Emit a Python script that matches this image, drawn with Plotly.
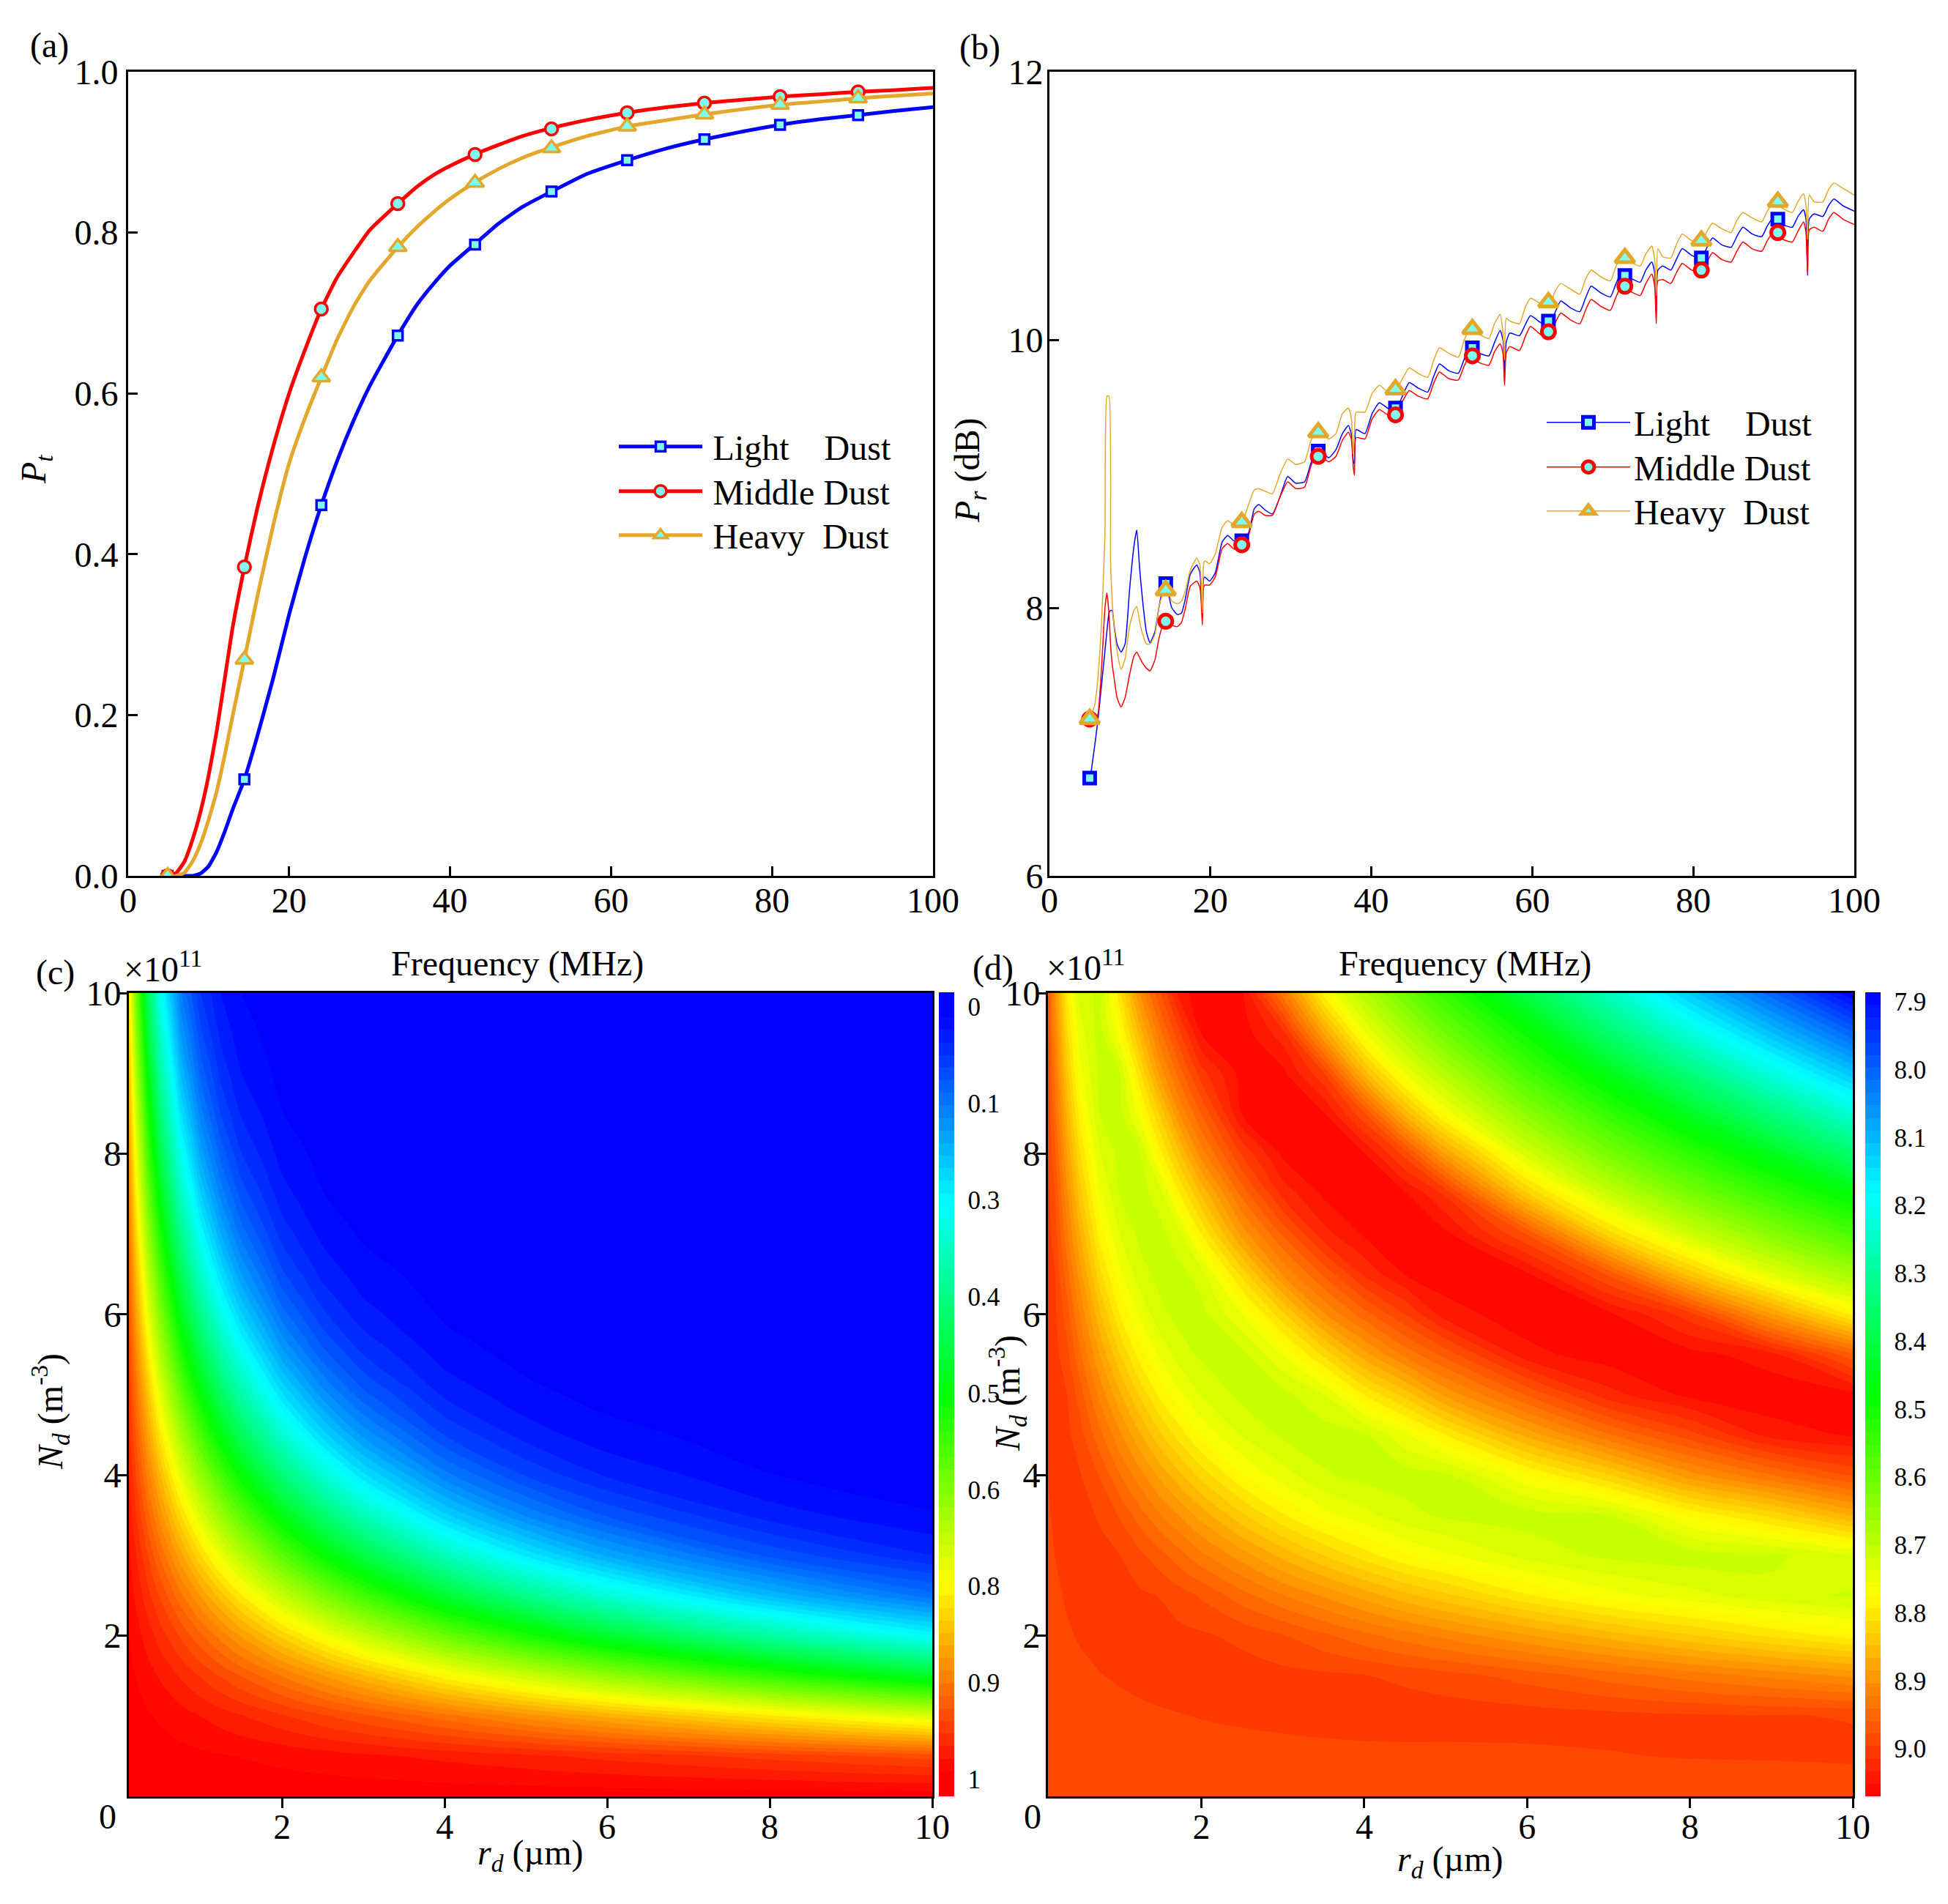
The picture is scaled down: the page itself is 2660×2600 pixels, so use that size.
import numpy as np
import plotly.graph_objects as go

W, H = 2660, 2600
PAGE = 8  # the page body keeps an 8 px margin around the figure
FONT = "Liberation Serif"

# (a) transmission curves
freq_a = [5, 6, 7, 8, 9, 10, 11, 12, 13, 14.44, 16, 18, 20, 22, 24, 26, 28, 30, 33.5, 36, 38, 40, 43, 46, 49,
          52.6, 57, 62, 67, 71.6, 76, 81, 86, 90.6, 95, 100]
light_a = [0, 0, 0, 0, .003, .012, .03, .055, .083, .12, .172, .245, .325, .397, .461, .517, .566, .609, .672, .712,
           .737, .759, .785, .811, .832, .851, .873, .89, .905, .916, .925, .934, .941, .946, .951, .956]
middle_a = [0, .004, .018, .045, .08, .125, .18, .245, .31, .384, .455, .533, .6, .655, .705, .745, .775, .803, .836,
            .858, .872, .883, .897, .909, .92, .93, .94, .949, .956, .961, .965, .969, .972, .975, .977, .98]
heavy_a = [0, 0, .004, .018, .04, .07, .105, .15, .2, .269, .345, .435, .513, .57, .62, .668, .708, .74, .782, .808,
           .826, .842, .862, .879, .893, .906, .92, .932, .94, .947, .953, .959, .963, .967, .97, .973]

mark_freq_a = [4.9, 14.44, 24, 33.5, 43.1, 52.6, 62, 71.6, 81, 90.7]
mark_light_a = [0, .12, .461, .672, .785, .851, .89, .916, .934, .946]
mark_middle_a = [0, .384, .705, .836, .897, .929, .949, .961, .969, .975]
mark_heavy_a = [0, .269, .62, .782, .862, .905, .932, .947, .959, .967]

# (b) reflection curves
freq_b = [5.1, 5.6, 6.0, 6.5, 6.9, 7.15, 7.4, 7.6, 7.8, 8.05, 8.4, 8.9, 9.4, 9.95, 10.5, 10.85, 11.2, 11.55, 12.05,
          12.5, 13.1, 13.6, 14.15, 14.65, 15.2, 15.9, 16.4, 16.9, 17.5, 18.3, 18.7, 18.85, 19.0, 19.15, 19.3, 19.9,
          20.6, 21.45, 22.15, 22.9, 23.9, 24.8, 25.45, 26.0, 26.8, 27.7, 28.6, 29.6, 30.6, 31.7, 32.5, 33.3, 34.7,
          35.6, 36.4, 37.15, 37.5, 37.75, 37.9, 38.1, 39.2, 40.1, 41.0, 42.3, 43.3, 44.7, 45.8, 47.0, 47.7, 48.46,
          49.6, 50.8, 51.5, 52.23, 53.4, 54.6, 55.3, 56.0, 56.35, 56.55, 56.75, 57.2, 58.4, 59.1, 59.77, 61, 62.1,
          62.8, 63.54, 64.7, 65.9, 66.6, 67.31, 68.5, 69.7, 70.4, 71.08, 72.2, 73.4, 74.1, 74.85, 75.2, 75.4, 75.6,
          76.2, 77.2, 77.9, 78.62, 79.8, 81, 81.7, 82.39, 83.5, 84.7, 85.4, 86.16, 87.3, 88.5, 89.2, 89.93, 91.1,
          92.3, 93.0, 93.7, 94.0, 94.2, 94.4, 95, 96.1, 96.8, 97.47, 98.6, 100]
light_b = [6.74, 6.96, 7.15, 7.44, 7.68, 7.83, 7.96, 7.98, 7.98, 7.86, 7.73, 7.67, 7.73, 8.13, 8.46, 8.58, 8.30, 8.07,
           7.82, 7.74, 7.82, 8.0, 8.15, 8.13, 8.0, 7.95, 7.96, 8.07, 8.25, 8.32, 8.26, 8.10, 7.94, 8.22, 8.23, 8.20,
           8.26, 8.49, 8.54, 8.50, 8.47, 8.57, 8.74, 8.77, 8.73, 8.70, 8.82, 8.98, 8.93, 8.94, 9.08, 9.19, 9.12,
           9.18, 9.30, 9.36, 9.30, 9.10, 9.07, 9.33, 9.30, 9.45, 9.53, 9.48, 9.51, 9.68, 9.64, 9.61, 9.72, 9.82,
           9.77, 9.75, 9.85, 9.95, 9.90, 9.88, 9.98, 10.07, 10.0, 9.75, 9.98, 10.05, 10.03, 10.11, 10.18, 10.13, 10.10,
           10.20, 10.29, 10.24, 10.21, 10.31, 10.40, 10.35, 10.32, 10.42, 10.50, 10.46, 10.43, 10.52, 10.58, 10.50,
           10.17, 10.52, 10.55, 10.52, 10.60, 10.68, 10.63, 10.60, 10.69, 10.76, 10.71, 10.69, 10.77, 10.84, 10.79,
           10.77, 10.85, 10.91, 10.86, 10.84, 10.92, 10.97, 10.90, 10.48, 10.90, 10.94, 10.92, 11.0, 11.05, 11.0, 10.96]
middle_b = [7.16, 7.17, 7.20, 7.58, 8.0, 8.11, 7.95, 7.72, 7.58, 7.47, 7.33, 7.26, 7.33, 7.50, 7.64, 7.67, 7.63, 7.59,
            7.55, 7.53, 7.61, 7.77, 7.88, 7.89, 7.87, 7.86, 7.89, 8.0, 8.16, 8.20, 8.15, 8.05, 7.87, 8.15, 8.17, 8.17,
            8.23, 8.44, 8.48, 8.44, 8.44, 8.55, 8.70, 8.72, 8.69, 8.69, 8.82, 8.94, 8.89, 8.90, 9.06, 9.15, 9.09,
            9.13, 9.25, 9.31, 9.26, 9.05, 8.99, 9.27, 9.26, 9.41, 9.48, 9.43, 9.48, 9.62, 9.58, 9.56, 9.67, 9.76,
            9.71, 9.70, 9.80, 9.88, 9.83, 9.81, 9.91, 9.97, 9.90, 9.66, 9.90, 9.95, 9.92, 10.02, 10.10, 10.04, 10.01,
            10.12, 10.20, 10.15, 10.12, 10.22, 10.30, 10.25, 10.22, 10.32, 10.40, 10.36, 10.33, 10.42, 10.49, 10.40,
            10.12, 10.44, 10.45, 10.42, 10.50, 10.57, 10.52, 10.50, 10.58, 10.65, 10.60, 10.58, 10.66, 10.73, 10.68,
            10.66, 10.74, 10.80, 10.75, 10.73, 10.81, 10.88, 10.80, 10.50, 10.82, 10.84, 10.81, 10.90, 10.95, 10.90, 10.86]
heavy_b = [7.18, 7.27, 7.46, 7.92, 8.55, 9.58, 9.58, 8.35, 8.05, 7.85, 7.68, 7.54, 7.62, 7.86, 7.98, 8.01, 7.90, 7.81,
           7.73, 7.73, 7.80, 8.0, 8.11, 8.13, 8.05, 8.03, 8.05, 8.13, 8.28, 8.37, 8.32, 8.20, 7.96, 8.32, 8.35, 8.33,
           8.40, 8.60, 8.65, 8.62, 8.64, 8.78, 8.88, 8.89, 8.87, 8.85, 8.99, 9.11, 9.07, 9.09, 9.25, 9.33, 9.26,
           9.30, 9.45, 9.49, 9.42, 9.15, 9.30, 9.46, 9.46, 9.60, 9.66, 9.60, 9.65, 9.79, 9.75, 9.72, 9.84, 9.94,
           9.90, 9.87, 9.99, 10.09, 10.04, 10.01, 10.12, 10.19, 10.05, 9.85, 10.16, 10.14, 10.12, 10.24, 10.31, 10.27,
           10.24, 10.36, 10.42, 10.38, 10.34, 10.45, 10.52, 10.47, 10.44, 10.55, 10.62, 10.58, 10.55, 10.64, 10.70,
           10.60, 10.33, 10.68, 10.62, 10.61, 10.71, 10.79, 10.74, 10.72, 10.81, 10.87, 10.83, 10.80, 10.89, 10.95,
           10.91, 10.88, 10.96, 11.02, 10.98, 10.95, 11.03, 11.09, 11.0, 10.75, 11.08, 11.03, 11.03, 11.12, 11.17,
           11.13, 11.08]

mark_freq_b = [5, 14.45, 23.9, 33.4, 43, 52.55, 62, 71.5, 81, 90.5]
mark_light_b = [6.73, 8.18, 8.50, 9.17, 9.49, 9.94, 10.14, 10.48, 10.61, 10.90]
mark_middle_b = [7.17, 7.90, 8.47, 9.13, 9.44, 9.88, 10.06, 10.40, 10.52, 10.80]
mark_heavy_b = [7.17, 8.13, 8.64, 9.31, 9.63, 10.08, 10.28, 10.61, 10.74, 11.03]

# (c) Pt map, one list per r_d column (N_d in 1e11 m^-3)
rd_c = [0.1, 0.2, 0.35, 0.5, 0.75, 1, 1.25, 1.5, 2, 2.5, 3, 4, 5, 6, 8, 10]
nd_c = [0, 0.5, 1, 1.5, 2, 2.5, 3, 3.5, 4, 4.5, 5, 5.5, 6, 6.5, 7, 7.5, 8, 8.5, 9, 9.5, 10]
pt_01 = [1, .999, .998, .995, .991, .986, .980, .973, .965, .955, .945, .934, .922, .909, .895, .881, .866, .850, .833, .816, .798]
pt_02 = [1, .999, .995, .989, .981, .970, .958, .943, .926, .907, .887, .865, .841, .816, .790, .763, .735, .706, .677, .648, .618]
pt_03 = [1, .998, .991, .980, .965, .946, .924, .897, .868, .836, .802, .765, .727, .688, .648, .608, .568, .528, .489, .450, .413]
pt_04 = [1, .997, .987, .971, .949, .922, .889, .852, .812, .768, .722, .674, .626, .577, .528, .481, .434, .390, .348, .309, .272]
pt_05 = [1, .995, .980, .955, .922, .881, .833, .780, .723, .663, .602, .541, .481, .424, .370, .319, .273, .231, .193, .160, .131]
pt_06 = [1, .993, .973, .939, .895, .841, .779, .711, .641, .570, .499, .432, .368, .309, .256, .210, .169, .134, .105, .082, .062]
pt_07 = [1, .991, .965, .923, .868, .802, .727, .648, .568, .488, .413, .343, .279, .224, .176, .136, .104, .077, .057, .041, .029]
pt_08 = [1, .989, .958, .907, .841, .763, .678, .589, .501, .417, .340, .271, .211, .161, .120, .088, .063, .044, .030, .020, .013]
pt_09 = [1, .985, .943, .875, .789, .691, .587, .485, .388, .302, .228, .167, .119, .082, .055, .036, .023, .014, .008, .005, .003]
pt_10 = [1, .981, .927, .844, .740, .624, .507, .397, .299, .217, .152, .102, .066, .041, .025, .014, .008, .004, .002, .001, .001]
pt_11 = [1, .977, .912, .813, .692, .563, .437, .324, .229, .155, .100, .062, .036, .021, .011, .006, .003, .001, .001, 0, 0]
pt_12 = [1, .969, .882, .753, .604, .455, .322, .213, .133, .078, .043, .022, .011, .005, .002, .001, 0, 0, 0, 0, 0]
pt_13 = [1, .961, .852, .698, .527, .368, .237, .141, .077, .039, .018, .008, .003, .001, 0, 0, 0, 0, 0, 0, 0]
pt_14 = [1, .952, .823, .645, .458, .295, .173, .092, .044, .019, .008, .003, .001, 0, 0, 0, 0, 0, 0, 0, 0]
pt_15 = [1, .935, .766, .548, .344, .189, .091, .038, .014, .005, .001, 0, 0, 0, 0, 0, 0, 0, 0, 0, 0]
pt_16 = [1, .918, .710, .463, .254, .118, .046, .015, .004, .001, 0, 0, 0, 0, 0, 0, 0, 0, 0, 0, 0]

# (d) Pr map, one list per r_d column
rd_d = [0.1, 0.2, 0.35, 0.5, 0.75, 1, 1.25, 1.5, 1.75, 2, 2.5, 3, 3.5, 4, 4.5, 5, 6, 7, 8, 9, 10]
nd_d = [0, 0.5, 1, 1.5, 2, 2.5, 3, 3.5, 4, 4.5, 5, 5.5, 6, 6.5, 7, 7.5, 8, 8.5, 9, 9.5, 10]
pr_01 = [8.98, 8.981, 8.983, 8.984, 8.985, 8.987, 8.988, 8.991, 8.995, 8.999, 9.002, 9.006, 9.009, 9.008, 9.006,
         9.004, 9.001, 8.999, 8.997, 8.991, 8.985]
pr_02 = [8.98, 8.982, 8.984, 8.986, 8.987, 8.991, 8.996, 9.001, 9.006, 9.009, 9.006, 9.003, 8.9995, 8.996, 8.987,
         8.978, 8.964, 8.948, 8.933, 8.917, 8.901]
pr_03 = [8.98, 8.982, 8.985, 8.987, 8.993, 8.999, 9.006, 9.009, 9.004, 9.0, 8.996, 8.983, 8.968, 8.948, 8.927,
         8.907, 8.884, 8.861, 8.838, 8.815, 8.792]
pr_04 = [8.98, 8.983, 8.986, 8.990, 8.998, 9.006, 9.008, 9.003, 8.998, 8.987, 8.970, 8.946, 8.922, 8.897, 8.869,
         8.842, 8.814, 8.787, 8.764, 8.748, 8.73]
pr_05 = [8.98, 8.984, 8.987, 8.995, 9.004, 9.007, 9.001, 8.994, 8.976, 8.946, 8.917, 8.885, 8.852, 8.818, 8.786,
         8.759, 8.739, 8.7185, 8.713, 8.709, 8.714]
pr_06 = [8.98, 8.984, 8.988, 8.999, 9.01, 9.003, 8.996, 8.975, 8.941, 8.907, 8.869, 8.83, 8.792, 8.76, 8.737,
         8.717, 8.711, 8.712, 8.7185, 8.77, 8.807]
pr_07 = [8.98, 8.9845, 8.9906, 9.003, 9.0068, 8.999, 8.982, 8.948, 8.91, 8.868, 8.825, 8.782, 8.752, 8.726, 8.713,
         8.71, 8.717, 8.767, 8.81, 8.858, 8.909]
pr_08 = [8.98, 8.985, 8.993, 9.006, 9.004, 8.995, 8.965, 8.923, 8.879, 8.832, 8.786, 8.752, 8.723, 8.712, 8.712,
         8.73, 8.788, 8.835, 8.895, 8.937, 8.978]
pr_09 = [8.98, 8.985, 8.995, 9.009, 9.001, 8.985, 8.946, 8.901, 8.85, 8.80, 8.758, 8.726, 8.712, 8.712, 8.737,
         8.796, 8.85, 8.91, 8.954, 8.997, 9.046]
pr_10 = [8.98, 8.986, 8.997, 9.009, 8.999, 8.975, 8.927, 8.877, 8.822, 8.77, 8.737, 8.715, 8.711, 8.729, 8.793,
         8.85, 8.913, 8.96, 9.007, 9.053, 9.06]
pr_11 = [8.98, 8.986, 9.0, 9.005, 8.991, 8.948, 8.894, 8.833, 8.775, 8.736, 8.713, 8.713, 8.756, 8.818, 8.892,
         8.947, 8.999, 9.053, 9.06, 9.062, 9.054]
pr_12 = [8.98, 8.987, 9.003, 9.002, 8.979, 8.923, 8.860, 8.795, 8.745, 8.715, 8.712, 8.757, 8.824, 8.905, 8.962,
         9.021, 9.056, 9.065, 9.057, 9.022, 8.932]
pr_13 = [8.98, 8.987, 9.007, 9.0, 8.963, 8.901, 8.829, 8.764, 8.721, 8.708, 8.737, 8.815, 8.901, 8.962, 9.026,
         9.055, 9.063, 9.054, 8.998, 8.883, 8.784]
pr_14 = [8.98, 8.988, 9.009, 8.997, 8.946, 8.877, 8.801, 8.743, 8.712, 8.716, 8.793, 8.878, 8.951, 9.018, 9.054,
         9.063, 9.053, 8.98, 8.858, 8.759, 8.687]
pr_15 = [8.98, 8.989, 9.009, 8.991, 8.931, 8.854, 8.776, 8.725, 8.709, 8.752, 8.837, 8.927, 8.996, 9.052, 9.065,
         9.054, 8.989, 8.859, 8.755, 8.679, 8.604]
pr_16 = [8.98, 8.99, 9.007, 8.985, 8.916, 8.834, 8.759, 8.715, 8.715, 8.793, 8.89, 8.966, 9.043, 9.062, 9.057,
         9.011, 8.883, 8.767, 8.686, 8.607, 8.539]
pr_17 = [8.98, 8.992, 9.005, 8.97, 8.887, 8.795, 8.73, 8.71, 8.772, 8.873, 8.961, 9.045, 9.063, 9.055, 8.976,
         8.832, 8.726, 8.639, 8.559, 8.489, 8.399]
pr_18 = [8.98, 8.995, 9.002, 8.951, 8.858, 8.764, 8.714, 8.7185, 8.828, 8.938, 9.026, 9.062, 9.056, 8.974, 8.821,
         8.71, 8.617, 8.537, 8.453, 8.355, 8.255]
pr_19 = [8.98, 8.997, 8.999, 8.933, 8.832, 8.744, 8.708, 8.777, 8.896, 8.989, 9.057, 9.059, 9.004, 8.84, 8.718,
         8.618, 8.531, 8.44, 8.336, 8.224, 8.121]
pr_20 = [8.98, 8.998, 8.997, 8.917, 8.807, 8.725, 8.714, 8.817, 8.94, 9.041, 9.065, 9.041, 8.888, 8.742, 8.636,
         8.54, 8.447, 8.337, 8.22, 8.11, 8.004]
pr_21 = [8.98, 9.0, 8.995, 8.90, 8.784, 8.716, 8.736, 8.869, 8.981, 9.054, 9.057, 8.963, 8.787, 8.668, 8.563,
         8.468, 8.353, 8.23, 8.114, 8.0, 7.886]

cbar_vals_c = [0, .125, .25, .375, .5, .625, .75, .875, 1]
cbar_text_c = ["0", "0.1", "0.3", "0.4", "0.5", "0.6", "0.8", "0.9", "1"]
cbar_vals_d = [7.9, 8.0, 8.1, 8.2, 8.3, 8.4, 8.5, 8.6, 8.7, 8.8, 8.9, 9.0]

BLUE, RED, GOLD = "#0000ff", "#ff0000", "#e3a82b"
FILL = "#7ffff0"
JET = [[0, "#ff0000"], [.25, "#ffff00"], [.5, "#00ff00"], [.75, "#00ffff"], [1, "#0000ff"]]
JET_C = [[0, "#ff0000"], [.03, "#ff0000"], [.265, "#ffff00"], [.5, "#00ff00"], [.737, "#00ffff"], [.97, "#0000ff"],
         [1, "#0000ff"]]


def px_x(p):
    return (p - PAGE) / W


def px_y(p):
    return 1 - (p - PAGE) / H


def gaps(v):
    # points with None between, so the legend gets line + marker but no line is drawn
    out = []
    for a in v:
        out += [a, None]
    return out


fig = go.Figure()


def add_curves(xax, yax, legends, x, series, lw, mlw):
    for name, color, sym, y, mx, my, ms in series:
        fig.add_trace(go.Scatter(x=x, y=y, mode="lines", xaxis=xax, yaxis=yax, showlegend=False,
                                 line=dict(color=color, width=lw, shape="spline", smoothing=0.5)))
    for leg, (name, color, sym, y, mx, my, ms) in zip(legends, series):
        fig.add_trace(go.Scatter(x=gaps(mx), y=gaps(my), mode="lines+markers", name=name, xaxis=xax, yaxis=yax,
                                 legend=leg, showlegend=True, line=dict(color=color, width=lw),
                                 marker=dict(symbol=sym, size=ms, color=FILL, line=dict(color=color, width=mlw))))


add_curves("x", "y", ["legend", "legend2", "legend3"], freq_a, [
    ("\u2009Light\u00a0\u00a0\u00a0\u00a0Dust", BLUE, "square", light_a, mark_freq_a, mark_light_a, 13),
    ("\u2009Middle Dust", RED, "circle", middle_a, mark_freq_a, mark_middle_a, 17),
    ("\u2009Heavy\u00a0\u00a0Dust", GOLD, "triangle-up", heavy_a, mark_freq_a, mark_heavy_a, 21),
], 5, 3.5)
add_curves("x2", "y2", ["legend4", "legend5", "legend6"], freq_b, [
    ("Light\u00a0\u00a0\u00a0\u00a0Dust", BLUE, "square", light_b, mark_freq_b, mark_light_b, 15),
    ("Middle Dust", RED, "circle", middle_b, mark_freq_b, mark_middle_b, 18),
    ("Heavy\u00a0\u00a0Dust", GOLD, "triangle-up", heavy_b, mark_freq_b, mark_heavy_b, 23),
], 1.5, 5)

# colour bars run top to bottom in the original, so the maps are plotted negated
z_c = np.column_stack([pt_01, pt_02, pt_03, pt_04, pt_05, pt_06, pt_07, pt_08, pt_09, pt_10, pt_11, pt_12, pt_13,
                       pt_14, pt_15, pt_16])
z_d = np.column_stack([pr_01, pr_02, pr_03, pr_04, pr_05, pr_06, pr_07, pr_08, pr_09, pr_10, pr_11, pr_12, pr_13,
                       pr_14, pr_15, pr_16, pr_17, pr_18, pr_19, pr_20, pr_21])


def cbar(x_left, vals, text):
    return dict(x=px_x(x_left), xanchor="left", y=px_y(2453), yanchor="bottom", len=1098 / H, lenmode="fraction",
                thickness=21, thicknessmode="pixels", xpad=0, ypad=0, outlinewidth=0,
                ticks="outside", ticklen=12, tickcolor="rgba(0,0,0,0)", tickmode="array",
                tickvals=[-v for v in vals], ticktext=text, tickfont=dict(family=FONT, size=35, color="black"))


fig.add_trace(go.Contour(x=rd_c, y=nd_c, z=-z_c, xaxis="x3", yaxis="y3", colorscale=JET_C, zmin=-1.022, zmax=0.019,
                         contours=dict(coloring="fill", showlines=False, start=-1.022, end=0.019, size=1.041 / 64),
                         line=dict(width=0, smoothing=1), colorbar=cbar(1282, cbar_vals_c, cbar_text_c)))
fig.add_trace(go.Contour(x=rd_d, y=nd_d, z=-z_d, xaxis="x4", yaxis="y4", colorscale=JET, zmin=-9.07, zmax=-7.886,
                         contours=dict(coloring="fill", showlines=False, start=-9.07, end=-7.886, size=1.184 / 64),
                         line=dict(width=0, smoothing=1),
                         colorbar=cbar(2547, cbar_vals_d, ["%.1f" % v for v in cbar_vals_d])))


def axis(p0, p1, anchor, rng, vals, text=None, ticks="inside", standoff=1, vertical=False):
    dom = [px_y(p1), px_y(p0)] if vertical else [px_x(p0), px_x(p1)]
    return dict(domain=dom, anchor=anchor, range=rng, tickmode="array", tickvals=vals,
                ticktext=text if text else [str(v) for v in vals], ticks=ticks, ticklen=13, tickwidth=3,
                tickcolor="black", showline=True, linecolor="black", linewidth=3, mirror=True, showgrid=False,
                zeroline=False, ticklabelstandoff=standoff, layer="above traces",
                tickfont=dict(family=FONT, size=48, color="black"))


freq_ticks = [0, 20, 40, 60, 80, 100]
pt_ticks = [0, .2, .4, .6, .8, 1]
pt_text = ["0.0", "0.2", "0.4", "0.6", "0.8", "1.0"]
map_ticks = [2, 4, 6, 8, 10]

fig.update_layout(
    width=W, height=H, margin=dict(l=0, r=0, t=0, b=0, autoexpand=False), paper_bgcolor="white", plot_bgcolor="white",
    font=dict(family=FONT, color="black"),
    xaxis=axis(175, 1274, "y", [0, 100], freq_ticks, standoff=-11),
    yaxis=axis(98, 1196, "x", [0, 1], pt_ticks, pt_text, vertical=True),
    xaxis2=axis(1433, 2532, "y2", [0, 100], freq_ticks, standoff=-11),
    yaxis2=axis(98, 1196, "x2", [6, 12], [6, 8, 10, 12], standoff=-4, vertical=True),
    xaxis3=axis(176, 1273, "y3", [0.115, 10], map_ticks, ticks="outside", standoff=-16),
    yaxis3=axis(1356, 2453, "x3", [0, 10], map_ticks, ticks="outside", standoff=-15, vertical=True),
    xaxis4=axis(1431, 2530, "y4", [0.115, 10], map_ticks, ticks="outside", standoff=-16),
    yaxis4=axis(1356, 2453, "x4", [0, 10], map_ticks, ticks="outside", standoff=-15, vertical=True),
)

# one legend per entry: keeps the tighter line spacing of the original
legend_places = [("legend", 840, 608), ("legend2", 840, 669), ("legend3", 840, 729),
                 ("legend4", 2107, 575), ("legend5", 2107, 636), ("legend6", 2107, 696)]
for leg, lx, ly in legend_places:
    fig.update_layout({leg: dict(x=px_x(lx), y=px_y(ly - 36), xanchor="left", yanchor="top",
                                 bgcolor="rgba(0,0,0,0)", itemwidth=114,
                                 font=dict(family=FONT, size=48, color="black"))})

texts = [
    ("(a)", 67, 62, 0), ("(b)", 1338, 65, 0), ("(c)", 75, 1328, 0), ("(d)", 1356, 1322, 0),
    ("Frequency (MHz)", 706, 1316, 0), ("Frequency (MHz)", 2001, 1316, 0),
    ("<i>P</i><sub><i>t</i></sub>", 49, 641, -90), ("<i>P</i><sub><i>r</i></sub> (dB)", 1324, 643, -90),
    ("<i>N</i><sub><i>d</i></sub> (m<sup>-3</sup>)", 68, 1928, -90),
    ("<i>N</i><sub><i>d</i></sub> (m<sup>-3</sup>)", 1375, 1903, -90),
    ("<i>r</i><sub><i>d</i></sub> (µm)", 724, 2533, 0), ("<i>r</i><sub><i>d</i></sub> (µm)", 1980, 2542, 0),
    ("×10<sup>11</sup>", 222, 1320, 0), ("×10<sup>11</sup>", 1482, 1318, 0),
    ("0", 147, 2480, 0), ("0", 1410, 2480, 0),
]
for txt, tx, ty, rot in texts:
    fig.add_annotation(text=txt, x=px_x(tx), y=px_y(ty), xref="paper", yref="paper", showarrow=False, textangle=rot,
                       xanchor="center", yanchor="middle", font=dict(family=FONT, size=48, color="black"))

fig.write_html("out.html")
